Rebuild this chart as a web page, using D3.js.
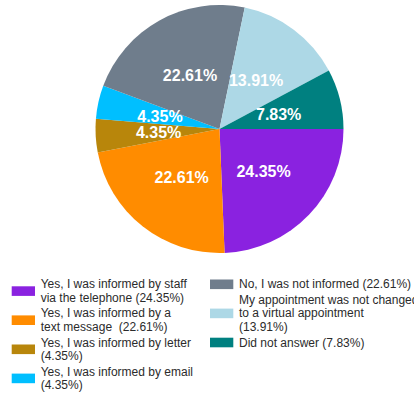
<!DOCTYPE html>
<html>
<head>
<meta charset="utf-8">
<script src="https://cdn.jsdelivr.net/npm/d3@7"></script>
<style>
  html, body { margin: 0; padding: 0; background: #fff; overflow: hidden; }
  svg { display: block; }
  text { white-space: pre; }
</style>
</head>
<body>
<svg id="chart" width="414" height="396"></svg>
<script>
// slices in drawing order, clockwise from 3 o'clock
const shares = [24.35, 22.61, 4.35, 4.35, 22.61, 13.91, 7.83];
const colors = ["#8a22e0", "#ff8c00", "#b8860b", "#00bfff", "#6f7d8c", "#add8e6", "#008080"];
const legendLines = [
  ["Yes, I was informed by staff", "via the telephone (24.35%)"],
  ["Yes, I was informed by a", "text message  (22.61%)"],
  ["Yes, I was informed by letter", "(4.35%)"],
  ["Yes, I was informed by email", "(4.35%)"],
  ["No, I was not informed (22.61%)"],
  ["My appointment was not changed", "to a virtual appointment", "(13.91%)"],
  ["Did not answer (7.83%)"]
];
const legendColumn = [0, 0, 0, 0, 1, 1, 1];

const svg = d3.select("#chart");
const cx = 219.5, cy = 129, radius = 124;

const pie = d3.pie().sort(null)
  .startAngle(Math.PI / 2)
  .endAngle(Math.PI / 2 + 2 * Math.PI);
const arcs = pie(shares);

const arc = d3.arc().innerRadius(0).outerRadius(radius);
const labelArc = d3.arc().innerRadius(61).outerRadius(61);

const g = svg.append("g").attr("transform", `translate(${cx},${cy})`);

g.selectAll("path")
  .data(arcs)
  .enter()
  .append("path")
  .attr("d", arc)
  .attr("fill", (d, i) => colors[i]);

g.selectAll("text")
  .data(arcs)
  .enter()
  .append("text")
  .attr("transform", (d) => `translate(${labelArc.centroid(d)})`)
  .attr("text-anchor", "middle")
  .attr("dy", "0.36em")
  .attr("fill", "#fff")
  .attr("font-family", "'Liberation Sans', Arial, sans-serif")
  .attr("font-weight", "bold")
  .attr("font-size", 16)
  .text((d) => d.data.toFixed(2) + "%");

// legend
const colX = [11.7, 210];
const lineH = 13.6, gap = 1.9;
const baseY = [288.3, 288.3];

const legend = svg.append("g")
  .attr("font-family", "'Liberation Sans', Arial, sans-serif")
  .attr("font-size", 12)
  .attr("fill", "#2b2b2b");

legendLines.forEach((lines, i) => {
  const c = legendColumn[i];
  const y0 = baseY[c];
  const item = legend.append("g");
  item.append("rect")
    .attr("x", colX[c])
    .attr("y", y0 - 4 + (lines.length - 1) * lineH / 2 - 4.8)
    .attr("width", 23.3)
    .attr("height", 9.6)
    .attr("fill", colors[i]);
  lines.forEach((t, j) => {
    item.append("text")
      .attr("x", colX[c] + 29)
      .attr("y", y0 + j * lineH)
      .text(t);
  });
  baseY[c] = y0 + (lines.length - 1) * lineH + lineH + gap;
});
</script>
</body>
</html>
